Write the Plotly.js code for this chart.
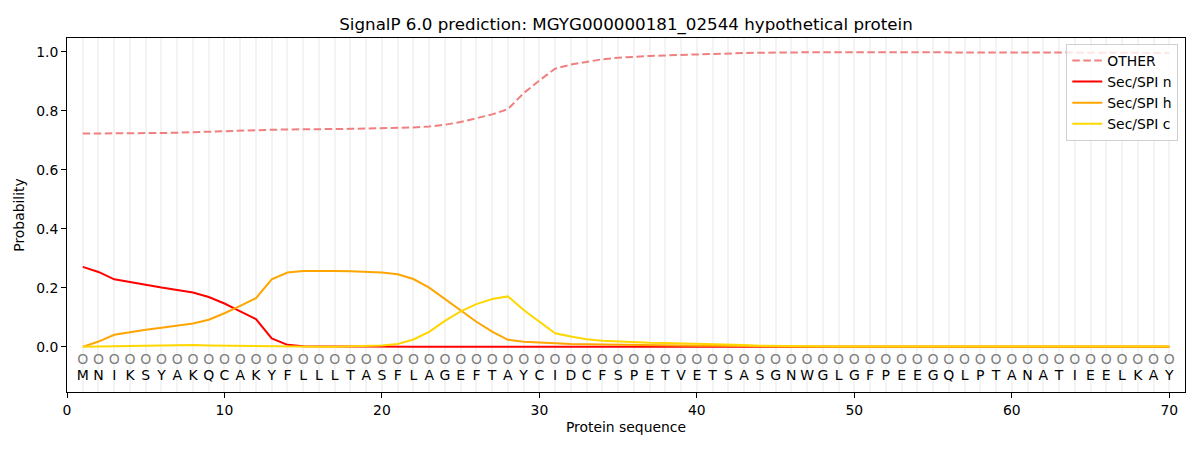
<!DOCTYPE html>
<html>
<head>
<meta charset="utf-8">
<script src="https://cdn.plot.ly/plotly-3.0.1.min.js"></script>
<style>
  html, body { margin: 0; padding: 0; background: #fff; }
  #chart { width: 1200px; height: 450px; }
</style>
</head>
<body>
<div id="chart"></div>
<script>
'use strict';

// protein sequence, one letter per position
var sequence = 'MNIKSYAKQCAKYFLLLTASFLAGEFTAYCIDCFSPETVETSASGNWGLGFPEEGQLPTANATIEELKAY'.split('');

var positions = sequence.map(function(s, i) { return i + 1; });

// probabilities
var other = [
	0.723, 0.723, 0.723, 0.723, 0.724, 0.725, 0.726, 0.728, 0.729, 0.731,
	0.733, 0.734, 0.736, 0.737, 0.737, 0.738, 0.738, 0.739, 0.740, 0.741,
	0.742, 0.744, 0.747, 0.753, 0.762, 0.774, 0.788, 0.806, 0.860, 0.903,
	0.943, 0.957, 0.967, 0.975, 0.980, 0.984, 0.986, 0.988, 0.990, 0.992,
	0.993, 0.995, 0.996, 0.997, 0.998, 0.999, 0.999, 0.999, 0.999, 0.999,
	0.999, 0.999, 0.999, 0.999, 0.999, 0.999, 0.999, 0.999, 0.999, 0.998,
	0.998, 0.998, 0.998, 0.998, 0.997, 0.997, 0.997, 0.997, 0.996, 0.996
];

var secN = [
	0.271, 0.254, 0.229, 0.219, 0.210, 0.201, 0.193, 0.184, 0.169, 0.147,
	0.120, 0.094, 0.029, 0.007, 0.002, 0.001, 0.001, 0.001, 0.001, 0.000,
	0.000, 0.000, 0.000, 0.000, 0.000, 0.000, 0.000, 0.000, 0.000, 0.000,
	0.000, 0.000, 0.000, 0.000, 0.000, 0.000, 0.000, 0.000, 0.000, 0.000,
	0.000, 0.000, 0.000, 0.000, 0.000, 0.000, 0.000, 0.000, 0.000, 0.000,
	0.000, 0.000, 0.000, 0.000, 0.000, 0.000, 0.000, 0.000, 0.000, 0.000,
	0.000, 0.000, 0.000, 0.000, 0.000, 0.000, 0.000, 0.000, 0.000, 0.000
];

var secH = [
	0.000, 0.018, 0.041, 0.050, 0.058, 0.065, 0.071, 0.079, 0.092, 0.114,
	0.139, 0.165, 0.229, 0.252, 0.257, 0.258, 0.257, 0.256, 0.255, 0.252,
	0.246, 0.230, 0.201, 0.162, 0.122, 0.085, 0.052, 0.024, 0.017, 0.014,
	0.012, 0.010, 0.009, 0.008, 0.007, 0.006, 0.006, 0.005, 0.005, 0.004,
	0.004, 0.003, 0.003, 0.002, 0.002, 0.001, 0.001, 0.001, 0.001, 0.001,
	0.001, 0.001, 0.001, 0.001, 0.001, 0.001, 0.001, 0.001, 0.001, 0.001,
	0.001, 0.001, 0.001, 0.001, 0.001, 0.001, 0.001, 0.001, 0.001, 0.001
];

var secC = [
	0.000, 0.001, 0.002, 0.003, 0.004, 0.005, 0.006, 0.006, 0.005, 0.004,
	0.003, 0.002, 0.001, 0.001, 0.000, 0.000, 0.000, 0.001, 0.002, 0.005,
	0.010, 0.025, 0.051, 0.088, 0.120, 0.145, 0.162, 0.171, 0.125, 0.085,
	0.046, 0.035, 0.026, 0.021, 0.018, 0.016, 0.014, 0.013, 0.012, 0.011,
	0.010, 0.008, 0.006, 0.004, 0.003, 0.002, 0.001, 0.001, 0.001, 0.001,
	0.001, 0.001, 0.001, 0.001, 0.001, 0.001, 0.001, 0.001, 0.001, 0.001,
	0.001, 0.001, 0.001, 0.001, 0.001, 0.001, 0.001, 0.001, 0.001, 0.001
];

// predicted label per position ("O" everywhere here)
var labels = sequence.map(function() { return 'O'; });

var labelY = -0.045;
var letterY = -0.1;

var font = 'DejaVu Sans, sans-serif';

var traces = [
	{
		x: positions, y: other, name: 'OTHER', type: 'scatter', mode: 'lines',
		line: {color: '#f08080', width: 2, dash: '7.5px,3.5px'}
	},
	{
		x: positions, y: secN, name: 'Sec/SPI n', type: 'scatter', mode: 'lines',
		line: {color: '#ff0000', width: 2}
	},
	{
		x: positions, y: secH, name: 'Sec/SPI h', type: 'scatter', mode: 'lines',
		line: {color: '#ffa500', width: 2}
	},
	{
		x: positions, y: secC, name: 'Sec/SPI c', type: 'scatter', mode: 'lines',
		line: {color: '#ffd700', width: 2}
	},
	{
		x: positions, y: positions.map(function() { return labelY; }),
		text: labels, type: 'scatter', mode: 'text', showlegend: false,
		textfont: {family: font, size: 14, color: '#808080'}, hoverinfo: 'skip'
	},
	{
		x: positions, y: positions.map(function() { return letterY; }),
		text: sequence, type: 'scatter', mode: 'text', showlegend: false,
		textfont: {family: font, size: 14, color: '#000'}, hoverinfo: 'skip'
	}
];

var layout = {
	width: 1200,
	height: 450,
	margin: {l: 67, r: 15, t: 38, b: 58},
	paper_bgcolor: '#fff',
	plot_bgcolor: '#fff',
	font: {family: font, size: 13.9, color: '#000'},
	title: {
		text: 'SignalP 6.0 prediction: MGYG000000181_02544 hypothetical protein',
		font: {family: font, size: 16.7, color: '#000'},
		xref: 'paper', x: 0.5, xanchor: 'center', y: 0.947, yanchor: 'middle'
	},
	xaxis: {
		range: [0, 71],
		tickmode: 'array',
		tickvals: [0, 10, 20, 30, 40, 50, 60, 70],
		ticks: 'outside', ticklen: 5, tickcolor: '#000',
		showline: true, linecolor: '#000', linewidth: 1, mirror: true,
		showgrid: true, gridcolor: '#f3f3f3', gridwidth: 2,
		minor: {tickmode: 'linear', tick0: 0, dtick: 1, showgrid: true, gridcolor: '#f3f3f3', gridwidth: 2, ticks: ''},
		zeroline: false,
		title: {text: 'Protein sequence', font: {family: font, size: 13.9}, standoff: 5}
	},
	yaxis: {
		range: [-0.153, 1.047],
		tickmode: 'array',
		tickvals: [0, 0.2, 0.4, 0.6, 0.8, 1.0],
		tickformat: '.1f',
		ticks: 'outside', ticklen: 5, tickcolor: '#000',
		showline: true, linecolor: '#000', linewidth: 1, mirror: true,
		showgrid: false, zeroline: false,
		title: {text: 'Probability', font: {family: font, size: 13.9}, standoff: 8}
	},
	legend: {
		x: 0.994, xanchor: 'right', y: 0.983, yanchor: 'top',
		bgcolor: 'rgba(255,255,255,0.8)', bordercolor: '#d0d0d0', borderwidth: 1,
		font: {family: font, size: 13.9}
	},
	showlegend: true
};

Plotly.newPlot('chart', traces, layout, {staticPlot: true});
</script>
</body>
</html>
